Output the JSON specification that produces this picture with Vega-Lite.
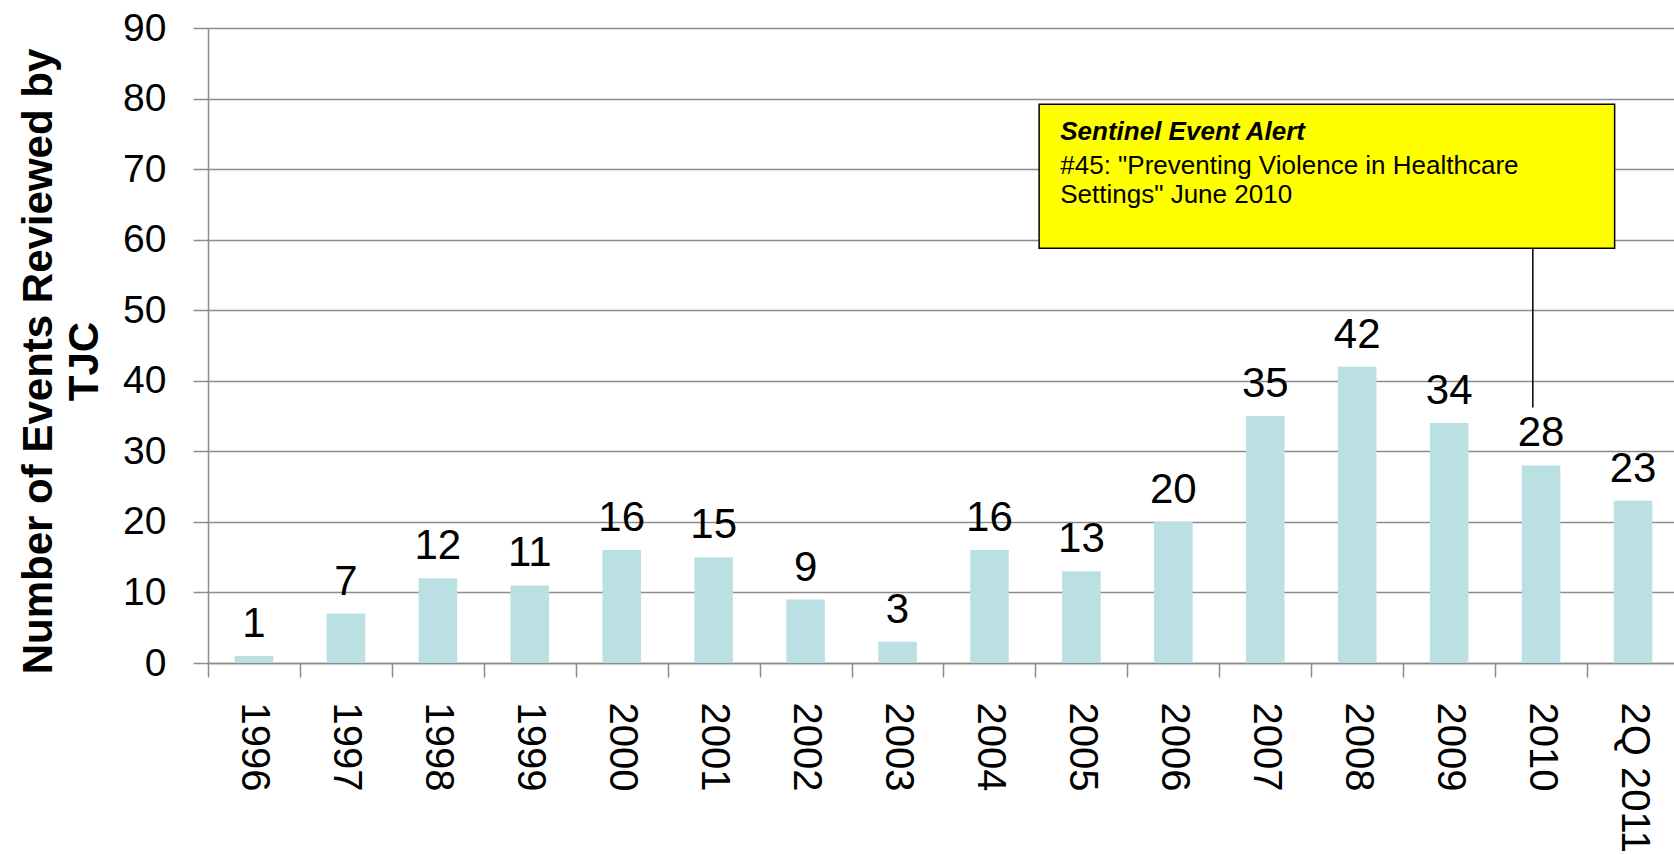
{
  "$schema": "https://vega.github.io/schema/vega-lite/v6.json",
  "width": 1471,
  "height": 635,
  "autosize": "none",
  "padding": {"left": 208, "top": 28, "right": 0, "bottom": 191},
  "background": "white",
  "config": {"view": {"stroke": null}, "font": "Liberation Sans"},
  "data": {
    "values": [
      {"year": "1996", "events": 1},
      {"year": "1997", "events": 7},
      {"year": "1998", "events": 12},
      {"year": "1999", "events": 11},
      {"year": "2000", "events": 16},
      {"year": "2001", "events": 15},
      {"year": "2002", "events": 9},
      {"year": "2003", "events": 3},
      {"year": "2004", "events": 16},
      {"year": "2005", "events": 13},
      {"year": "2006", "events": 20},
      {"year": "2007", "events": 35},
      {"year": "2008", "events": 42},
      {"year": "2009", "events": 34},
      {"year": "2010", "events": 28},
      {"year": "2Q 2011", "events": 23}
    ]
  },
  "layer": [
    {
      "layer": [
        {
          "mark": {"type": "bar", "color": "#bbe0e3"},
          "encoding": {
            "x": {
              "field": "year", "type": "nominal", "sort": null,
              "scale": {"paddingInner": 0.58, "paddingOuter": 0.29},
              "axis": {
                "title": null, "labelAngle": 90, "labelAlign": "left", "labelBaseline": "middle",
                "labelFontSize": 40, "labelColor": "black", "labelPadding": 25,
                "tickSize": 14, "tickOffset": -45.97, "labelOffset": 45.97, "tickColor": "#8c8c8c", "tickWidth": 1.5,
                "domainColor": "#8c8c8c", "domainWidth": 1.5, "grid": false
              }
            },
            "y": {
              "field": "events", "type": "quantitative",
              "scale": {"domain": [0, 90], "nice": false},
              "axis": {
                "values": [0, 10, 20, 30, 40, 50, 60, 70, 80, 90],
                "title": ["Number of Events Reviewed by", "TJC"],
                "titleFontSize": 42, "titleFontWeight": "bold", "titleColor": "black",
                "titleAngle": -90, "titleX": -170, "titleY": 333, "titleAlign": "center",
                "titleBaseline": "middle", "titleLineHeight": 46,
                "labelFontSize": 39, "labelColor": "black", "labelPadding": 27,
                "tickSize": 15, "tickColor": "#8c8c8c", "tickWidth": 1.5,
                "domainColor": "#8c8c8c", "domainWidth": 1.5,
                "grid": true, "gridColor": "#8c8c8c", "gridWidth": 1.5
              }
            }
          }
        },
        {
          "mark": {"type": "text", "dy": -19, "baseline": "alphabetic", "fontSize": 42, "color": "black"},
          "encoding": {
            "x": {"field": "year", "type": "nominal", "sort": null},
            "y": {"field": "events", "type": "quantitative"},
            "text": {"field": "events"}
          }
        }
      ]
    },
    {
      "data": {"values": [{}]},
      "layer": [
        {
          "mark": {"type": "rule", "color": "black", "strokeWidth": 1.5},
          "encoding": {
            "x": {"datum": 14.41, "type": "quantitative", "scale": {"domain": [0, 16], "nice": false}, "axis": null},
            "y": {"datum": 58.8, "type": "quantitative"},
            "y2": {"datum": 36.2}
          }
        },
        {
          "mark": {"type": "rect", "fill": "#ffff00", "stroke": "black", "strokeWidth": 1.5},
          "encoding": {
            "x": {"datum": 9.04, "type": "quantitative"},
            "x2": {"datum": 15.3},
            "y": {"datum": 79.2, "type": "quantitative"},
            "y2": {"datum": 58.8}
          }
        },
        {
          "mark": {"type": "text", "align": "left", "baseline": "middle", "fontSize": 26, "fontWeight": "bold", "fontStyle": "italic", "color": "black"},
          "encoding": {
            "x": {"datum": 9.27, "type": "quantitative"},
            "y": {"datum": 75.3, "type": "quantitative"},
            "text": {"value": "Sentinel Event Alert"}
          }
        },
        {
          "mark": {"type": "text", "align": "left", "baseline": "middle", "fontSize": 26, "color": "black"},
          "encoding": {
            "x": {"datum": 9.27, "type": "quantitative"},
            "y": {"datum": 70.5, "type": "quantitative"},
            "text": {"value": "#45: \"Preventing Violence in Healthcare"}
          }
        },
        {
          "mark": {"type": "text", "align": "left", "baseline": "middle", "fontSize": 26, "color": "black"},
          "encoding": {
            "x": {"datum": 9.27, "type": "quantitative"},
            "y": {"datum": 66.3, "type": "quantitative"},
            "text": {"value": "Settings\" June 2010"}
          }
        }
      ]
    }
  ],
  "resolve": {"scale": {"x": "independent"}}
}
